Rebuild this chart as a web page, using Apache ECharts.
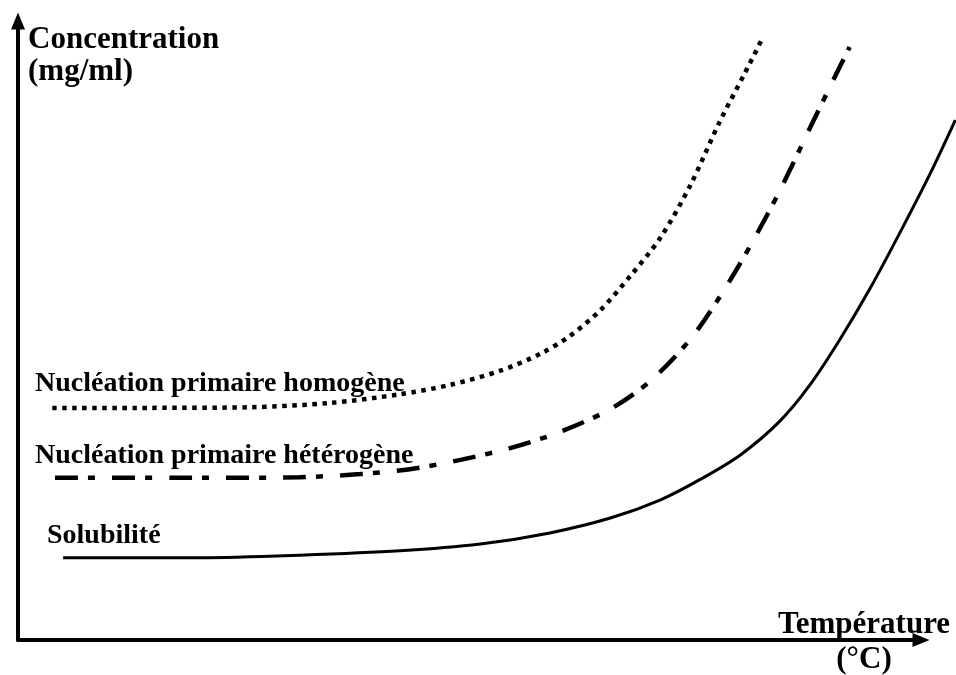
<!DOCTYPE html>
<html>
<head>
<meta charset="utf-8">
<script src="https://cdn.jsdelivr.net/npm/echarts@6/dist/echarts.min.js"></script>
<style>
  html, body { margin: 0; padding: 0; background: #fff; }
  #chart { width: 956px; height: 675px; }
</style>
</head>
<body>
<div id="chart"></div>
<script>
const solubiliteX = [5.0, 20.2, 31.2, 42.3, 51.2, 58.9, 65.6, 71.1, 75.5, 80.0, 84.4, 87.7, 91.0, 94.4, 97.7, 101.0, 103.8]
const solubiliteY = [13.3, 13.3, 13.7, 14.4, 15.5, 17.3, 19.7, 22.6, 25.9, 29.9, 35.4, 41.2, 48.5, 56.9, 65.9, 75.3, 84.0]

const heteroX = [4.1, 20.2, 31.2, 37.9, 43.4, 49.0, 54.5, 60.0, 65.6, 70.0, 74.4, 77.7, 81.1, 84.4, 87.7, 90.5, 92.1]
const heteroY = [26.2, 26.2, 26.3, 26.8, 27.6, 29.1, 31.0, 33.6, 37.3, 41.8, 48.5, 55.4, 63.7, 72.7, 82.7, 91.1, 95.8]

const homoX = [3.8, 14.6, 25.7, 34.6, 42.3, 47.8, 53.4, 57.8, 61.1, 64.5, 67.8, 71.1, 74.4, 77.7, 80.5, 82.5]
const homoY = [37.5, 37.5, 37.6, 38.3, 39.7, 41.2, 43.5, 46.2, 49.1, 53.3, 58.8, 64.9, 73.3, 83.7, 91.6, 97.4]

const zip = (xs, ys) => xs.map((x, i) => [x, ys[i]])

const serif = '"Times New Roman", "Liberation Serif", serif'
const scaleX = 100 / 903 // unités par pixel sur l'axe des températures

const chart = echarts.init(document.getElementById('chart'))

const arrowAxis = {
  type: 'value',
  min: 0,
  max: 100,
  gridIndex: 0,
  axisLine: {
    show: true,
    symbol: ['none', 'triangle'],
    symbolSize: [14, 17],
    lineStyle: { color: '#000', width: 4 }
  },
  axisTick: { show: false },
  axisLabel: { show: false },
  splitLine: { show: false }
}

const hiddenAxis = {
  type: 'value',
  min: 0,
  gridIndex: 1,
  show: false,
  splitLine: { show: false }
}

const curve = (name, xs, ys, lineStyle) => ({
  name: name,
  type: 'line',
  xAxisIndex: 1,
  yAxisIndex: 1,
  data: zip(xs, ys),
  smooth: 0.3,
  symbol: 'none',
  lineStyle: Object.assign({ color: '#000' }, lineStyle)
})

const label = (text, x, y, size, align) => ({
  type: 'text',
  x: x,
  y: y,
  style: {
    text: text,
    fill: '#000',
    font: 'bold ' + size + 'px ' + serif,
    textAlign: align || 'left',
    textVerticalAlign: 'middle'
  }
})

chart.setOption({
  animation: false,
  backgroundColor: '#fff',
  grid: [
    { left: 18, right: 35, top: 21, bottom: 35 },
    // même échelle, prolongée jusqu'au bord droit pour la courbe de solubilité
    { left: 18, right: 0, top: 21, bottom: 35 }
  ],
  xAxis: [
    arrowAxis,
    Object.assign({}, hiddenAxis, { max: 938 * scaleX })
  ],
  yAxis: [
    arrowAxis,
    Object.assign({}, hiddenAxis, { max: 100 })
  ],
  series: [
    curve('Solubilité', solubiliteX, solubiliteY, { width: 3 }),
    curve('Nucléation primaire hétérogène', heteroX, heteroY, { width: 4.5, type: [23, 10, 7, 17] }),
    curve('Nucléation primaire homogène', homoX, homoY, { width: 4.5, type: [4.5, 5.5] })
  ],
  graphic: [
    label('Concentration', 28, 39.5, 31),
    label('(mg/ml)', 28, 71.5, 31),
    label('Nucléation primaire homogène', 35, 383.5, 28),
    label('Nucléation primaire hétérogène', 35, 455.5, 28),
    label('Solubilité', 47, 535.5, 28),
    label('Température', 864, 624.5, 31, 'center'),
    label('(°C)', 864, 659.5, 31, 'center')
  ]
})
</script>
</body>
</html>
